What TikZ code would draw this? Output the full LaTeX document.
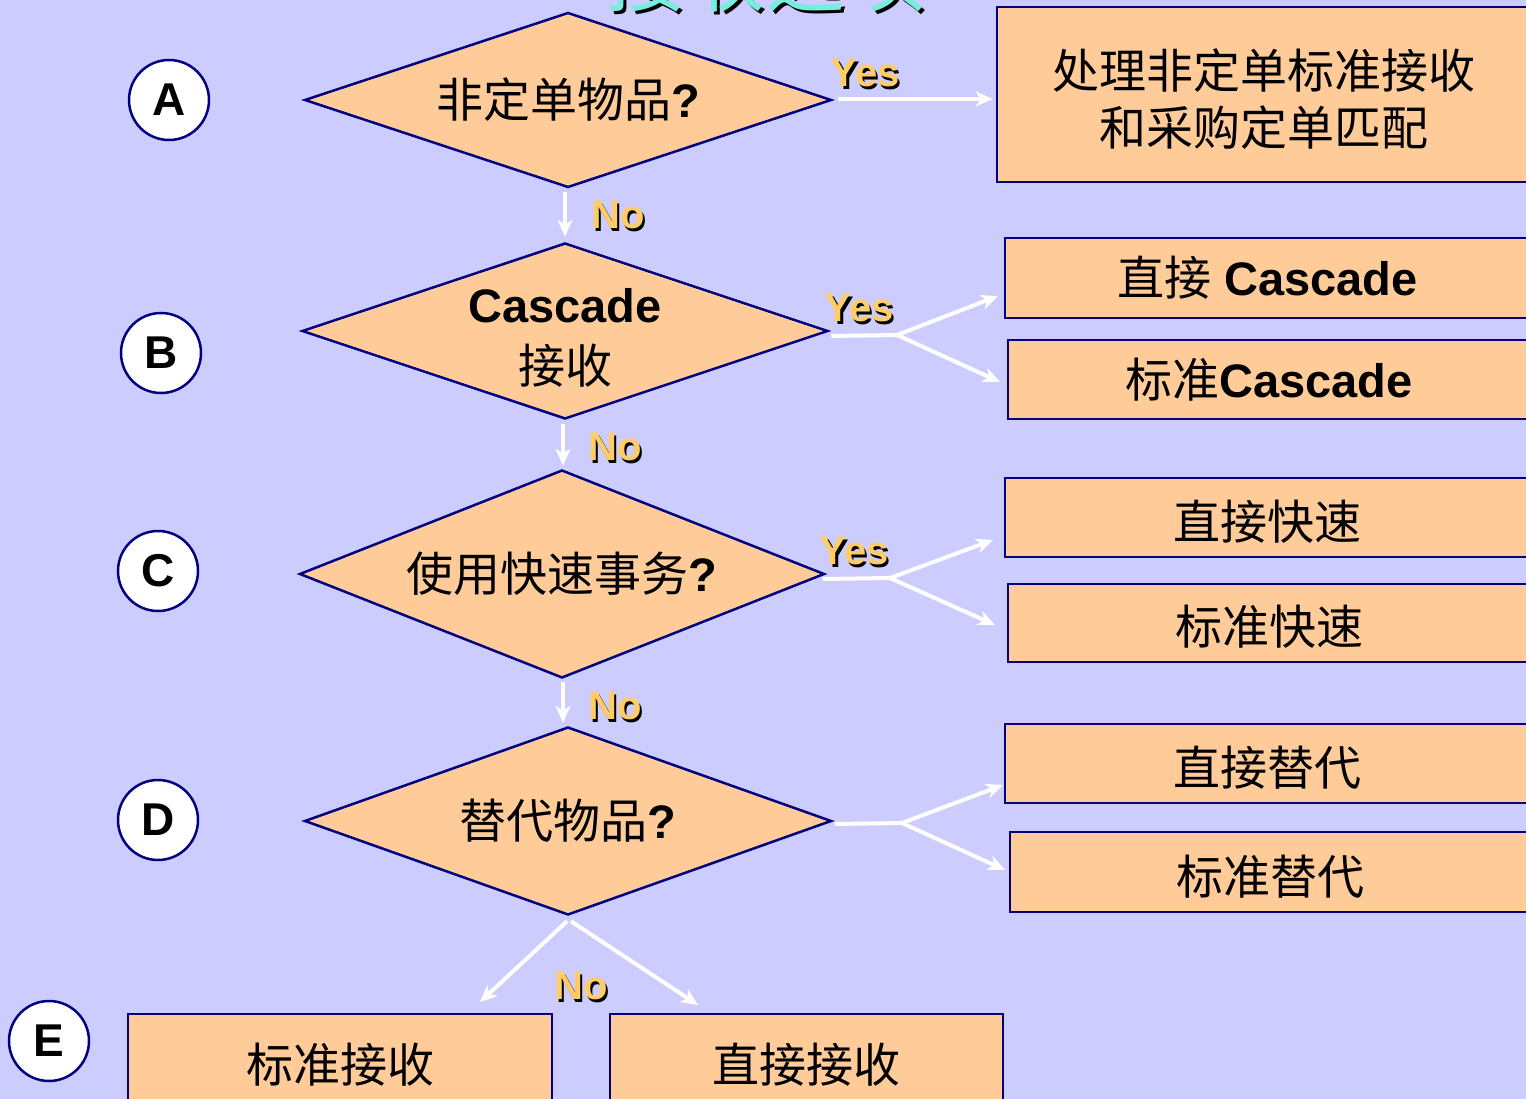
\documentclass[tikz,border=0pt]{standalone}
\usepackage{fontspec}
\setmainfont{Liberation Sans}
\newfontfamily\cjk{Noto Sans CJK SC}
\usetikzlibrary{shapes.geometric,arrows.meta,calc}
\definecolor{bg}{RGB}{204,204,255}
\definecolor{peach}{RGB}{255,204,153}
\definecolor{navy}{RGB}{0,0,128}
\definecolor{gold}{RGB}{255,204,102}
\definecolor{cyanT}{RGB}{119,238,221}
\newcommand\shtext[3]{%
  \node[lab,text=black] at ($(#1)+(2.5,2.5)$) {#3};
  \node[lab] (#2) at (#1) {#3};}
\begin{document}
\begin{tikzpicture}[x=1pt,y=-1pt,
  dia/.style={shape=diamond, draw=navy, fill=peach, line width=2.5pt, inner sep=0pt, aspect=3,
    font=\fontsize{47}{61}\selectfont, align=center},
  box/.style={rectangle, draw=navy, fill=peach, line width=2.5pt, inner sep=0pt,
    font=\fontsize{47}{57}\selectfont, align=center},
  low/.style={text height=#1, text depth=0pt},
  txt/.style={inner sep=0pt, align=center},
  circ/.style={circle, draw=navy, fill=white, line width=2.5pt, minimum size=80pt, inner sep=0pt,
    font=\fontsize{46}{50}\selectfont\bfseries},
  arr/.style={draw=white, line width=4pt, -{Stealth[length=17pt,width=15pt,inset=5pt]}},
  wline/.style={draw=white, line width=4pt},
  lab/.style={font=\fontsize{40}{44}\selectfont\bfseries, text=gold, inner sep=0pt}
]
\useasboundingbox (0,0) rectangle (1526,1099);
\clip (0,0) rectangle (1526,1099);
\fill[bg] (0,0) rectangle (1526,1099);

% title (cut off at top, as in the reference)
\node[font=\cjk\fontsize{80}{80}\selectfont, text=black, anchor=south, inner sep=0pt] at (768,15) {接收选项};
\node[font=\cjk\fontsize{80}{80}\selectfont, text=cyanT, anchor=south, inner sep=0pt] (title) at (765,12) {接收选项};

% circles
\node[circ] (cA) at (169,100) {A};
\node[circ] (cB) at (161,353) {B};
\node[circ] (cC) at (158,571) {C};
\node[circ] (cD) at (158,820) {D};
\node[circ] (cE) at (49,1041) {E};

% diamonds
\node[dia, minimum width=527pt, minimum height=175pt] (dA) at (568,100) {{\cjk 非定单物品}\textbf{?}};
\node[dia, minimum width=526pt, minimum height=176pt] (dB) at (565,331) {};
\node[txt, font=\fontsize{47}{61}\selectfont] (dBt) at (565,337.5) {\textbf{Cascade}\\{\cjk 接收}};
\node[dia, minimum width=525pt, minimum height=208pt] (dC) at (562,574) {{\cjk 使用快速事务}\textbf{?}};
\node[dia, minimum width=527pt, minimum height=188pt] (dD) at (568,821) {{\cjk 替代物品}\textbf{?}};

% boxes
\node[box, minimum width=533pt, minimum height=175pt] (b1) at (1263.5,94.5) {};
\node[txt, font=\fontsize{47}{57}\selectfont] (b1t) at (1263.5,99.5) {{\cjk 处理非定单标准接收}\\{\cjk 和采购定单匹配}};
\node[box, minimum width=525pt, minimum height=80pt] (b2) at (1267.5,278) {{\cjk 直接} \textbf{Cascade}};
\node[box, minimum width=522pt, minimum height=79pt] (b3) at (1269,379.5) {{\cjk 标准}\textbf{Cascade}};
\node[box, low=44pt, minimum width=525pt, minimum height=79pt] (b4) at (1267.5,517.5) {\cjk 直接快速};
\node[box, low=42pt, minimum width=522pt, minimum height=78pt] (b5) at (1269,623) {\cjk 标准快速};
\node[box, low=44pt, minimum width=525pt, minimum height=79pt] (b6) at (1267.5,763.5) {\cjk 直接替代};
\node[box, low=44pt, minimum width=520pt, minimum height=80pt] (b7) at (1270,872) {\cjk 标准替代};
\node[box, low=40pt, minimum width=424pt, minimum height=96pt] (b8) at (340,1062) {\cjk 标准接收};
\node[box, low=40pt, minimum width=393pt, minimum height=96pt] (b9) at (806.5,1062) {\cjk 直接接收};

% connector points
\coordinate (jB) at (897,335);
\coordinate (jC) at (890,578);
\coordinate (jD) at (902,823);
\coordinate (eB1) at (998,296);
\coordinate (eB2) at (1000,382);
\coordinate (eC1) at (993,540);
\coordinate (eC2) at (995,625);
\coordinate (eD1) at (1003,785);
\coordinate (eD2) at (1005,870);
\coordinate (eE1) at (480,1002);
\coordinate (eE2) at (698,1005);

% A
\draw[arr, shorten <=5pt, shorten >=3pt] ([yshift=1pt]dA.east) -- ([yshift=1pt]dA.east -| b1.west);
\draw[arr, shorten <=3pt, shorten >=5pt] (dB.north |- dA.south) -- (dB.north);
% B
\draw[wline] ([shift={(2,5)}]dB.east) -- (jB);
\draw[arr] (jB) -- (eB1);
\draw[arr] (jB) -- (eB2);
\draw[arr, shorten <=4pt, shorten >=3pt] ([xshift=-2pt]dB.south) -- ([xshift=-2pt]dB.south |- dC.north);
% C
\draw[wline] ([shift={(-3,5)}]dC.east) -- (jC);
\draw[arr] (jC) -- (eC1);
\draw[arr] (jC) -- (eC2);
\draw[arr, shorten <=3pt, shorten >=3pt] ([xshift=1pt]dC.south) -- ([xshift=1pt]dC.south |- dD.north);
% D
\draw[wline] ([shift={(2,3)}]dD.east) -- (jD);
\draw[arr] (jD) -- (eD1);
\draw[arr] (jD) -- (eD2);
\draw[arr] ([shift={(-1,5)}]dD.south) -- (eE1);
\draw[arr] ([shift={(3,5)}]dD.south) -- (eE2);

% labels
\shtext{865,73}{yA}{Yes}
\shtext{859,308}{yB}{Yes}
\shtext{854,551}{yC}{Yes}
\shtext{618,215}{nA}{No}
\shtext{615,447}{nB}{No}
\shtext{615,706}{nC}{No}
\shtext{581,986}{nD}{No}
\end{tikzpicture}
\end{document}
